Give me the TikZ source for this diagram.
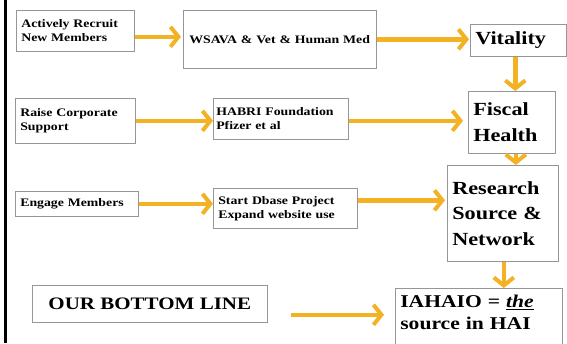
\documentclass[tikz,border=0pt]{standalone}
\usepackage{xcolor}
\usepackage{fontspec}
\setmainfont{Liberation Serif}[FakeStretch=1.2]
\usepackage{tikz}
\usetikzlibrary{arrows.meta, positioning}
\definecolor{arrowgold}{RGB}{243,178,35}
\definecolor{boxgray}{RGB}{150,150,150}

\begin{document}
\begin{tikzpicture}[x=1pt, y=-1pt, auto]
    \tikzstyle{box} = [rectangle, draw=boxgray, line width=0.6pt, anchor=north west, align=left, inner xsep=5pt, inner ysep=3pt, font=\bfseries\fontsize{11.5}{14}\selectfont]
    \tikzstyle{bigbox} = [box, font=\bfseries\fontsize{18.5}{25.5}\selectfont]
    \tikzstyle{arrow} = [draw=arrowgold, line width=4.5pt, -{Straight Barb[length=8pt, width=20pt, line width=4pt]}]

    % frame
    \fill[white] (0,0) rectangle (567,343);
    \clip (0,0) rectangle (567,343);
    \draw[line width=3pt] (5.5,0) -- (5.5,343);

    \node[box, text width=108, minimum height=41] (recruit) at (16,10) {Actively Recruit\\New Members};
    \node[box, text width=187, inner xsep=3pt, minimum height=58] (wsava) at (183,10) {\hspace{3pt}WSAVA \& Vet \& Human Med};
    \node[bigbox, text width=86, minimum height=32, inner ysep=1pt] (vitality) at (470,24) {Vitality};

    \node[box, text width=110, minimum height=45] (raise) at (15,98) {Raise Corporate\\Support};
    \node[box, text width=129, inner xsep=3pt, minimum height=41] (habri) at (213,98) {HABRI Foundation\\Pfizer et al};
    \node[bigbox, text width=77, minimum height=62] (fiscal) at (468,91) {Fiscal\\Health};

    \node[box, text width=113, minimum height=25] (engage) at (15,191) {Engage Members};
    \node[box, text width=134, minimum height=40] (dbase) at (213,188) {Start Dbase Project\\Expand website use};
    \node[bigbox, text width=101, minimum height=96] (research) at (447,165) {Research\\Source \&\\Network};

    \node[box, minimum width=235, minimum height=37, align=center, font=\bfseries\fontsize{17.5}{21}\selectfont] (bottom) at (32,285) {OUR BOTTOM LINE};
    \node[bigbox, text width=157, inner ysep=7pt, text depth=45pt, font=\bfseries\fontsize{18}{22}\selectfont] (iahaio) at (395,288) {IAHAIO = \underline{\textit{the}}\\source in HAI};

    \draw[arrow, shorten >=2pt] ([yshift=-6pt]recruit.east) -- ([yshift=-6pt]recruit.east -| wsava.west);
    \draw[arrow, shorten >=1pt] (wsava.east) -- (wsava.east -| vitality.west);
    \draw[arrow] ([xshift=-3pt]vitality.south) -- ([xshift=-3pt]vitality.south |- fiscal.north);
    \draw[arrow] (raise.east) -- (raise.east -| habri.west);
    \draw[arrow, shorten >=5pt] ([yshift=-2pt]habri.east) -- ([yshift=-2pt]habri.east -| fiscal.west);
    \draw[arrow] ([xshift=4pt]fiscal.south) -- ([xshift=4pt]fiscal.south |- research.north);
    \draw[arrow] (engage.east) -- (engage.east -| dbase.west);
    \draw[arrow, shorten >=2pt] ([yshift=8pt]dbase.east) -- ([yshift=8pt]dbase.east -| research.west);
    \draw[arrow] ([xshift=1pt]research.south) -- ([xshift=1pt]research.south |- iahaio.north);
    \draw[arrow, shorten <=23pt, shorten >=11pt] ([yshift=-11pt]bottom.east) -- ([yshift=-11pt]bottom.east -| iahaio.west);
\end{tikzpicture}
\end{document}
